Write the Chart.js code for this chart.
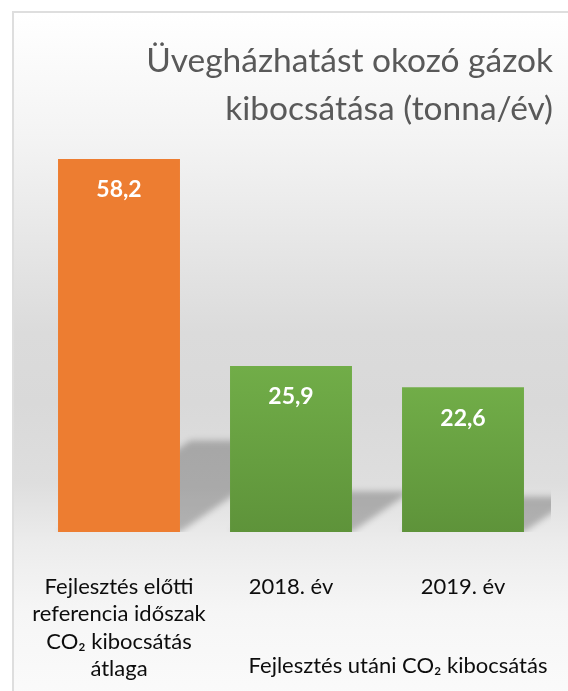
<!DOCTYPE html>
<html>
<head>
<meta charset="utf-8">
<script src="https://cdn.jsdelivr.net/npm/chart.js@4/dist/chart.umd.min.js"></script>
<style>
	html, body { margin: 0; padding: 0; background: #fff; overflow: hidden; }
	#frame {
		position: absolute; left: 12px; top: 11px; width: 600px; height: 700px;
		border: 2px solid #dedede;
		background: linear-gradient(to bottom, #ffffff 0px, #f3f3f3 130px, #dbdbdb 320px, #d9d9d9 390px, #dedede 470px, #ececec 530px, #f6f6f6 600px, #fbfbfb 690px);
	}
	#wrap { position: absolute; left: 0; top: 0; width: 568px; height: 691px; }
</style>
</head>
<body>
<div id="frame"></div>
<div id="wrap"><canvas id="chart"></canvas></div>
<script>
	'use strict';

	// chart data
	var categories = [
		['Fejlesztés előtti', 'referencia időszak', 'CO₂ kibocsátás', 'átlaga'],
		'2018. év',
		'2019. év'
	];
	var values = [58.2, 25.9, 22.6];
	var valueLabels = ['58,2', '25,9', '22,6'];
	var groupLabel = 'Fejlesztés utáni CO₂ kibocsátás';
	var titleLines = ['Üvegházhatást okozó gázok', 'kibocsátása (tonna/év)'];

	var FONT = 'Lato, "Open Sans", sans-serif';

	function barFill(context) {
		var i = context.dataIndex;
		if (i === 0) {
			return '#ed7d31';
		}
		var chart = context.chart;
		var yScale = chart.scales.y;
		if (!yScale || !chart.chartArea) {
			return '#6aa443';
		}
		var top = yScale.getPixelForValue(values[i]);
		var bottom = yScale.getPixelForValue(0);
		var g = chart.ctx.createLinearGradient(0, top, 0, bottom);
		g.addColorStop(0, '#71ad48');
		g.addColorStop(1, '#5e933a');
		return g;
	}

	// perspective shadow cast to the right of each bar
	var shadowPlugin = {
		id: 'barShadow',
		beforeDatasetsDraw: function (chart) {
			var ctx = chart.ctx;
			var area = chart.chartArea;
			var meta = chart.getDatasetMeta(0);
			ctx.save();
			ctx.beginPath();
			ctx.rect(area.left, area.top, area.right - area.left + 2, area.bottom - area.top);
			ctx.clip();
			ctx.filter = 'blur(3px)';
			ctx.fillStyle = 'rgba(0,0,0,0.24)';
			meta.data.forEach(function (bar) {
				var x0 = bar.x - bar.width / 2;
				var x1 = bar.x + bar.width / 2;
				var h = bar.base - bar.y;
				var sh = h * 0.245;
				var d = sh * 1.45;
				ctx.beginPath();
				ctx.moveTo(x0, bar.base);
				ctx.lineTo(x1, bar.base);
				ctx.lineTo(x1 + d, bar.base - sh);
				ctx.lineTo(x0 + d, bar.base - sh);
				ctx.closePath();
				ctx.fill();
			});
			ctx.restore();
		}
	};

	var textPlugin = {
		id: 'texts',
		afterDatasetsDraw: function (chart) {
			var ctx = chart.ctx;
			var meta = chart.getDatasetMeta(0);
			var xScale = chart.scales.x;
			ctx.save();

			// value labels inside the bars
			ctx.fillStyle = '#ffffff';
			ctx.font = 'bold 23px ' + FONT;
			ctx.textAlign = 'center';
			ctx.textBaseline = 'middle';
			meta.data.forEach(function (bar, i) {
				ctx.fillText(valueLabels[i], bar.x, bar.y + 31);
			});

			// group label under the two later years
			ctx.fillStyle = '#0d0d0d';
			ctx.font = '22px ' + FONT;
			var mid = (xScale.getPixelForValue(1) + xScale.getPixelForValue(2)) / 2;
			ctx.fillText(groupLabel, mid + 21, 666);

			// title, right aligned
			ctx.fillStyle = '#595959';
			ctx.font = '33.5px ' + FONT;
			ctx.textAlign = 'right';
			ctx.textBaseline = 'alphabetic';
			ctx.fillText(titleLines[0], 553, 72);
			ctx.fillText(titleLines[1], 553, 120);
			ctx.restore();
		}
	};

	new Chart(document.getElementById('chart'), {
		type: 'bar',
		data: {
			labels: categories,
			datasets: [{
				data: values,
				backgroundColor: barFill,
				borderWidth: 0,
				barPercentage: 0.709,
				categoryPercentage: 1
			}]
		},
		options: {
			responsive: true,
			maintainAspectRatio: false,
			animation: false,
			layout: {
				padding: { left: 33, right: 19, top: 147.5, bottom: 0 }
			},
			plugins: {
				legend: { display: false },
				title: { display: false },
				tooltip: { enabled: false }
			},
			scales: {
				x: {
					// invisible grid, only used to push the labels down
					grid: { display: true, color: 'transparent', drawTicks: true, tickLength: 41 },
					border: { display: false },
					ticks: {
						color: '#0d0d0d',
						padding: 0,
						maxRotation: 0,
						autoSkip: false,
						font: { family: FONT, size: 22, lineHeight: 1.25 }
					},
					afterFit: function (scale) {
						scale.height = 159;
					}
				},
				y: {
					display: false,
					min: 0,
					max: 60
				}
			}
		},
		plugins: [shadowPlugin, textPlugin]
	});
</script>
</body>
</html>
